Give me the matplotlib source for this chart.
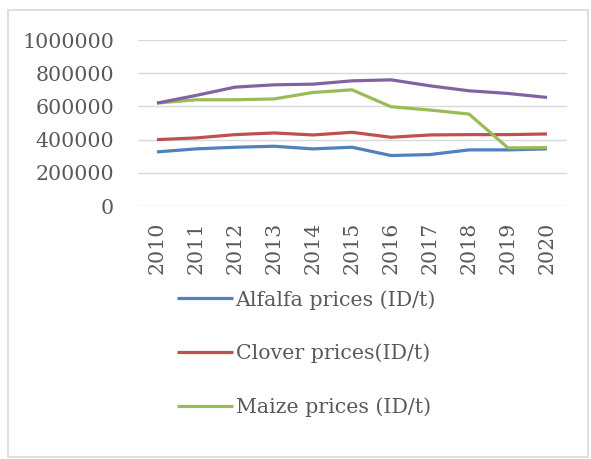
import matplotlib
matplotlib.use("Agg")
import matplotlib.pyplot as plt
from matplotlib.patches import Rectangle

# ── Data ────────────────────────────────────────────────
years   = ["2010", "2011", "2012", "2013", "2014", "2015",
           "2016", "2017", "2018", "2019", "2020"]
alfalfa = [326000, 344000, 354000, 360000, 344000, 354000,
           304000, 310000, 338000, 338000, 344000]
clover  = [400000, 410000, 430000, 440000, 428000, 444000,
           414000, 428000, 430000, 430000, 434000]
maize   = [620000, 640000, 640000, 645000, 684000, 700000,
           598000, 578000, 554000, 350000, 352000]
other   = [620000, 666000, 716000, 730000, 734000, 754000,
           760000, 724000, 694000, 678000, 654000]

labels = ["Alfalfa prices (ID/t)", "Clover prices(ID/t)", "Maize prices (ID/t)"]
colors = ["#4F81BD", "#C0504D", "#9BBB59", "#8064A2"]

# ── Figure ──────────────────────────────────────────────
W, H = 591, 459
fig = plt.figure(figsize=(W / 100, H / 100), dpi=100)
fig.patches.append(Rectangle((8 / W, 1 - 457 / H), 580 / W, 447 / H,
                             transform=fig.transFigure, fill=False,
                             edgecolor="#d9d9d9", linewidth=1.2))

ax = fig.add_axes([137.5 / W, 1 - 206 / H, 429 / W, 166 / H])
x = range(len(years))
lines = []
for series, c in zip([alfalfa, clover, maize, other], colors):
    ln, = ax.plot(x, series, color=c, linewidth=2.3, solid_capstyle="butt")
    lines.append(ln)

ax.set_xlim(-0.5, len(years) - 0.5)
ax.set_ylim(0, 1000000)
ax.set_yticks(range(0, 1000001, 200000))
ax.set_yticklabels([str(v) for v in range(0, 1000001, 200000)])
ax.set_xticks(list(x))
ax.set_xticklabels(years, rotation=90)

font = dict(family="DejaVu Serif", size=14.8)
for lab in ax.get_xticklabels() + ax.get_yticklabels():
    lab.set_fontfamily(font["family"])
    lab.set_fontsize(font["size"])
    lab.set_color("#595959")

ax.tick_params(axis="both", length=0)
ax.tick_params(axis="y", pad=17)
ax.tick_params(axis="x", pad=11)
ax.grid(axis="y", color="#d9d9d9", linewidth=1)
ax.set_axisbelow(True)
for s in ax.spines.values():
    s.set_visible(False)

leg = fig.legend(lines[:3], labels, loc="upper left",
                 bbox_to_anchor=(177 / W, 1 - 290 / H),
                 frameon=False, borderpad=0, borderaxespad=0,
                 handlelength=2.7, handletextpad=0.15, labelspacing=1.65,
                 prop={"family": "DejaVu Serif", "size": 14.8})
for t in leg.get_texts():
    t.set_color("#595959")

fig.savefig("out.png", dpi=100)
